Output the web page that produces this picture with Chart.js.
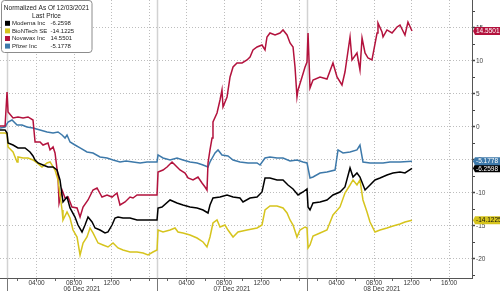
<!DOCTYPE html>
<html>
<head>
<meta charset="utf-8">
<script src="https://cdn.jsdelivr.net/npm/chart.js@4.4.1/dist/chart.umd.min.js"></script>
<style>
  html, body { margin: 0; padding: 0; background: #fff; }
</style>
</head>
<body>
<canvas id="chart" width="500" height="295"></canvas>
<script>
// legend / tag info, in legend order
const seriesNames = ['Moderna Inc', 'BioNTech SE', 'Novavax Inc', 'Pfizer Inc'];
const seriesColors = ['#000000', '#d6c41d', '#b3123d', '#3d79aa'];
const lastPrices = ['-6.2598', '-14.1225', '14.5501', '-5.1778'];
const legendTitle = ['Normalized As Of 12/03/2021', 'Last Price'];

// x axis: one 16 hour session per day, session starts at 00:51 on the axis clock
const dayLabels = ['06 Dec 2021', '07 Dec 2021', '08 Dec 2021'];
const timeTicks = [4, 8, 12, 16];
const timeLabels = ['04:00', '08:00', '12:00', '16:00'];
const sessionHours = 16;
const sessionStart = 0.85;

const yTickVals = [-22.5, -20, -17.5, -15, -12.5, -10, -7.5, -5, -2.5, 0, 2.5, 5, 7.5, 10, 12.5, 15, 17.5];

// [session hours, % change since 12/03]
const moderna = [[-0.75,-0.45],[-0.21,-0.45],[0,-0.91],[0.11,-2.42],[0.64,-2.73],[1.17,-3.18],[1.92,-3.18],[2.45,-3.79],[2.77,-4.39],[2.99,-5.0],[3.31,-5.45],[3.84,-5.76],[4.37,-6.06],[4.91,-6.06],[5.33,-6.52],[5.65,-8.03],[5.97,-11.36],[6.4,-10.61],[6.72,-12.27],[7.25,-13.64],[7.57,-14.85],[8.0,-15.91],[8.32,-14.85],[8.64,-13.64],[9.07,-14.39],[9.39,-15.3],[9.92,-15.61],[10.45,-16.06],[10.77,-15.91],[11.2,-14.85],[11.52,-13.79],[11.84,-13.64],[12.37,-13.79],[13.12,-13.79],[13.87,-14.09],[15.25,-14.09],[16.0,-14.09],[16.11,-12.27],[16.53,-12.12],[17.39,-11.06],[18.13,-11.52],[18.77,-11.82],[19.52,-12.12],[20.27,-12.27],[20.91,-12.58],[21.44,-13.03],[21.65,-11.82],[21.97,-10.76],[22.72,-10.61],[23.47,-10.3],[24.11,-10.61],[24.85,-10.76],[25.17,-11.36],[25.92,-10.76],[26.67,-10.61],[27.2,-9.85],[27.52,-7.73],[28.05,-7.73],[28.8,-8.03],[29.44,-8.03],[29.97,-8.79],[30.51,-9.39],[31.04,-10.3],[31.57,-9.85],[32.0,-9.39],[32.11,-12.12],[32.32,-12.58],[32.64,-11.52],[33.39,-11.36],[34.13,-11.06],[34.77,-10.3],[35.52,-9.85],[36.05,-9.09],[36.59,-6.21],[36.91,-7.58],[37.33,-6.97],[37.65,-7.58],[38.19,-9.55],[38.72,-8.79],[39.25,-8.03],[39.79,-7.73],[40.53,-7.27],[41.17,-6.97],[41.92,-6.82],[42.45,-6.97],[43.2,-6.26]];

const biontech = [[-0.75,-0.91],[-0.21,-0.91],[0,-1.06],[0.11,-3.03],[0.64,-3.79],[1.07,-5.3],[1.17,-4.55],[1.71,-4.7],[2.24,-4.7],[2.77,-5.0],[3.2,-5.45],[3.73,-6.06],[4.27,-5.45],[4.59,-5.3],[5.12,-6.52],[5.44,-8.03],[5.87,-12.58],[5.97,-14.09],[6.4,-12.88],[6.72,-13.79],[7.04,-15.61],[7.47,-16.67],[7.79,-19.39],[8.11,-17.58],[8.53,-16.67],[8.85,-15.3],[9.17,-16.06],[9.71,-17.58],[10.24,-17.88],[10.77,-18.18],[11.31,-17.58],[11.84,-18.33],[12.37,-18.64],[13.12,-18.94],[13.87,-18.94],[14.51,-19.09],[15.04,-19.39],[15.57,-18.94],[16.0,-18.64],[16.11,-15.61],[16.64,-15.91],[17.39,-15.61],[17.92,-15.3],[18.24,-15.91],[18.77,-16.06],[19.52,-16.36],[20.27,-16.82],[20.91,-17.42],[21.33,-18.18],[21.65,-16.67],[21.97,-14.55],[22.4,-14.09],[22.72,-15.15],[23.25,-14.85],[23.57,-15.61],[24.11,-16.67],[24.64,-15.91],[25.6,-15.61],[26.67,-15.3],[27.2,-14.85],[27.52,-12.58],[28.05,-11.97],[28.8,-11.97],[29.44,-12.27],[29.87,-13.03],[30.19,-14.09],[30.51,-14.85],[30.93,-16.67],[31.25,-15.61],[31.79,-15.15],[32.0,-15.3],[32.11,-18.33],[32.32,-17.88],[32.64,-16.52],[33.39,-16.06],[34.13,-15.61],[34.77,-13.33],[35.52,-12.12],[36.05,-10.0],[36.59,-8.79],[36.91,-8.03],[37.33,-8.79],[37.65,-8.03],[37.97,-11.06],[38.4,-12.88],[38.72,-14.39],[39.25,-15.91],[39.79,-15.61],[40.53,-15.3],[41.17,-15.0],[41.92,-14.7],[42.45,-14.39],[43.2,-14.12]];

const novavax = [[-0.75,0.15],[-0.21,0.15],[0,5.3],[0.11,2.27],[0.64,1.36],[1.17,1.52],[1.71,1.36],[2.24,1.52],[2.77,1.06],[2.99,-2.27],[3.52,-2.27],[3.84,-2.73],[4.37,-2.42],[4.59,-3.48],[4.91,-3.03],[5.12,-3.94],[5.44,-7.58],[5.55,-11.52],[5.87,-9.55],[6.19,-10.76],[6.51,-10.61],[6.93,-12.12],[7.47,-12.27],[7.79,-13.64],[8.11,-12.12],[8.64,-11.06],[9.17,-9.55],[9.6,-9.24],[10.13,-10.61],[10.67,-10.3],[11.2,-10.61],[11.73,-10.0],[12.05,-11.82],[12.59,-11.36],[13.12,-10.61],[13.44,-10.76],[13.87,-10.3],[14.51,-10.3],[15.25,-10.3],[16.0,-10.3],[16.11,-6.82],[16.64,-6.52],[17.07,-6.06],[17.6,-5.3],[17.92,-5.76],[18.45,-6.52],[18.99,-6.97],[19.31,-7.73],[19.84,-8.03],[20.37,-7.58],[20.8,-8.48],[21.12,-9.09],[21.33,-9.55],[21.44,-5.45],[21.65,-3.48],[21.87,-1.67],[21.97,0.76],[22.4,2.12],[22.72,4.09],[22.93,5.61],[23.04,3.03],[23.47,4.55],[23.79,7.58],[24.11,9.09],[24.53,9.7],[25.07,9.7],[25.6,10.15],[25.92,10.61],[26.24,11.67],[26.67,12.12],[27.2,12.42],[27.52,11.67],[27.73,13.64],[28.05,14.24],[28.59,13.94],[29.12,14.24],[29.44,14.7],[29.87,13.94],[30.19,12.73],[30.51,12.12],[30.72,9.09],[30.93,4.55],[31.04,5.61],[31.47,7.58],[31.79,9.09],[32.0,9.85],[32.11,14.24],[32.32,5.91],[32.64,7.12],[33.39,7.58],[34.13,7.27],[34.77,9.7],[35.2,7.58],[35.73,6.36],[36.05,8.33],[36.59,13.64],[36.8,10.15],[37.33,11.21],[37.65,8.64],[37.87,13.48],[38.19,11.21],[38.51,10.45],[38.93,10.15],[39.47,14.24],[39.57,15.76],[40.0,14.39],[40.11,13.64],[40.53,14.7],[41.07,14.24],[41.6,15.15],[41.92,15.45],[42.45,13.94],[42.77,15.91],[43.2,14.55]];

const pfizer = [[-0.75,-0.15],[-0.21,0],[0.11,0.76],[0.53,1.06],[1.07,0.3],[1.6,0.3],[2.13,0],[2.77,-0.15],[3.52,-0.45],[4.27,-0.76],[4.91,-0.91],[5.44,-0.76],[5.87,-1.21],[6.19,-1.67],[6.4,-1.21],[6.72,-2.27],[7.25,-2.73],[7.79,-3.18],[8.53,-3.79],[9.17,-3.94],[9.92,-4.55],[10.67,-4.7],[11.31,-5.0],[12.05,-5.3],[12.7,-5.15],[13.44,-5.3],[14.2,-5.45],[14.93,-5.3],[16.0,-5.3],[16.11,-4.24],[16.64,-4.7],[17.39,-5.0],[18.13,-4.7],[18.77,-5.0],[19.52,-5.3],[20.27,-5.45],[20.91,-5.76],[21.44,-6.06],[21.65,-5.3],[22.19,-3.94],[22.51,-3.48],[22.93,-4.24],[23.57,-4.39],[24.11,-5.0],[24.85,-5.3],[25.71,-5.45],[26.67,-5.45],[26.99,-5.76],[27.52,-4.7],[28.05,-4.55],[28.8,-4.7],[29.44,-4.7],[30.19,-5.15],[30.93,-5.0],[31.57,-5.3],[32.0,-5.45],[32.32,-7.73],[32.64,-7.58],[33.39,-6.97],[34.13,-6.82],[34.99,-6.52],[35.31,-3.48],[35.84,-3.94],[36.59,-3.79],[37.33,-3.48],[37.65,-2.73],[37.97,-5.3],[38.72,-5.45],[40.11,-5.45],[40.85,-5.3],[41.92,-5.3],[43.2,-5.18]];

const allSeries = [moderna, biontech, novavax, pfizer];
const FONT = '"Liberation Sans", Arial, sans-serif';

// x ticks: day boundary + every 2h, grid only on the 4h ones
const xTickVals = [], xTickText = [], xTickKind = [];
dayLabels.forEach((d, i) => {
  xTickVals.push(i * sessionHours); xTickText.push(''); xTickKind.push('boundary');
  for (let hr = 2; hr <= 16; hr += 2) {
    xTickVals.push(i * sessionHours + hr - sessionStart);
    const k = timeTicks.indexOf(hr);
    let txt = k >= 0 ? timeLabels[k] : '';
    if (hr === 16 && i < dayLabels.length - 1) txt = '';   // no 16:00 next to the day break
    xTickText.push(txt);
    xTickKind.push(k >= 0 ? 'major' : 'minor');
  }
});

const sessionLines = {
  id: 'sessionLines',
  beforeDatasetsDraw(chart) {
    const { ctx, chartArea, scales } = chart;
    ctx.save();
    ctx.strokeStyle = '#d2d2d2';
    ctx.lineWidth = 1.5;
    dayLabels.forEach((d, i) => {
      const x = Math.round(scales.x.getPixelForValue(i * sessionHours)) + 0.5;
      ctx.beginPath(); ctx.moveTo(x, chartArea.top); ctx.lineTo(x, chartArea.bottom); ctx.stroke();
    });
    ctx.restore();
  },
  afterDraw(chart) {
    const { ctx, chartArea, scales } = chart;
    ctx.save();
    // long tick + date under each session
    ctx.strokeStyle = '#777';
    ctx.lineWidth = 1;
    ctx.font = '6.5px ' + FONT;
    ctx.fillStyle = '#333';
    ctx.textAlign = 'center';
    ctx.textBaseline = 'middle';
    dayLabels.forEach((d, i) => {
      const x = Math.round(scales.x.getPixelForValue(i * sessionHours)) + 0.5;
      ctx.beginPath(); ctx.moveTo(x, chartArea.bottom); ctx.lineTo(x, chartArea.bottom + 13); ctx.stroke();
      ctx.fillText(d, scales.x.getPixelForValue(i * sessionHours + 8), chartArea.bottom + 11.5);
    });
    ctx.restore();
  }
};

const priceTags = {
  id: 'priceTags',
  afterDraw(chart) {
    const { ctx, chartArea, scales } = chart;
    ctx.save();
    ctx.font = '6.5px ' + FONT;
    ctx.textBaseline = 'middle';
    ctx.textAlign = 'left';
    [1, 2, 0, 3].forEach(i => {
      const y = scales.y.getPixelForValue(parseFloat(lastPrices[i]));
      const x0 = chartArea.right + 1;
      ctx.fillStyle = seriesColors[i];
      ctx.beginPath();
      ctx.moveTo(x0, y);
      ctx.lineTo(x0 + 2, y - 4);
      ctx.lineTo(500, y - 4);
      ctx.lineTo(500, y + 4);
      ctx.lineTo(x0 + 2, y + 4);
      ctx.closePath();
      ctx.fill();
      ctx.fillStyle = i === 1 ? '#111' : '#fff';
      ctx.fillText(lastPrices[i], x0 + 3, y + 0.5);
    });
    ctx.restore();
  }
};

const legendBox = {
  id: 'legendBox',
  afterDraw(chart) {
    const ctx = chart.ctx;
    ctx.save();
    ctx.beginPath();
    ctx.roundRect(1.5, 0.5, 90.5, 52, 3);
    ctx.fillStyle = '#fff';
    ctx.fill();
    ctx.strokeStyle = '#8c8c8c';
    ctx.lineWidth = 1;
    ctx.stroke();
    ctx.font = '6.5px ' + FONT;
    ctx.fillStyle = '#222';
    ctx.textAlign = 'center';
    ctx.textBaseline = 'middle';
    ctx.fillText(legendTitle[0], 46.5, 8.5);
    ctx.fillText(legendTitle[1], 46.5, 16);
    ctx.textAlign = 'left';
    ctx.font = '6px ' + FONT;
    seriesNames.forEach((name, i) => {
      const y = 23.3 + i * 7.6;
      ctx.fillStyle = seriesColors[i];
      ctx.fillRect(5, y - 2.5, 5, 5);
      ctx.fillStyle = '#222';
      ctx.fillText(name, 12, y);
      ctx.fillText(lastPrices[i], 50.5, y);
    });
    ctx.restore();
  }
};

new Chart(document.getElementById('chart'), {
  type: 'line',
  data: {
    datasets: allSeries.map((s, i) => ({
      label: seriesNames[i],
      data: s.map(p => ({ x: p[0], y: p[1] })),
      borderColor: seriesColors[i],
      borderWidth: 1.5,
      pointRadius: 0,
      tension: 0,
      fill: false
    }))
  },
  options: {
    responsive: false,
    animation: false,
    devicePixelRatio: 1,
    layout: { padding: 0 },
    plugins: { legend: { display: false }, tooltip: { enabled: false } },
    scales: {
      x: {
        type: 'linear',
        min: -0.75,
        max: 49.6,
        afterBuildTicks: axis => { axis.ticks = xTickVals.map(v => ({ value: v })); },
        afterFit: axis => { axis.height = 17; axis.paddingLeft = 0; axis.paddingRight = 0; },
        ticks: {
          autoSkip: false, maxRotation: 0, minRotation: 0, padding: -2,
          color: '#333', font: { size: 6.5, family: FONT },
          callback: (v, i) => xTickText[i]
        },
        grid: {
          color: c => xTickKind[c.index] === 'major' ? '#bdbdbd' : 'rgba(0,0,0,0)',
          lineWidth: 1,
          tickLength: 3,
          tickColor: '#666'
        },
        border: { display: true, color: '#555', width: 1, dash: [1, 2] }
      },
      y: {
        position: 'right',
        min: -22.88,
        max: 19.24,
        afterBuildTicks: axis => { axis.ticks = yTickVals.map(v => ({ value: v })); },
        afterFit: axis => { axis.width = 28; axis.paddingTop = 0; axis.paddingBottom = 0; },
        ticks: {
          autoSkip: false, padding: 1,
          color: '#444', font: { size: 6.5, family: FONT },
          callback: v => (v % 5 === 0 ? String(v) : '')
        },
        grid: {
          color: c => (c.tick && c.tick.value % 5 === 0) ? '#bdbdbd' : 'rgba(0,0,0,0)',
          lineWidth: 1,
          tickLength: 3,
          tickColor: '#444',
          tickWidth: c => (c.tick && c.tick.value % 5 === 0) ? 1.5 : 1
        },
        border: { display: true, color: '#555', width: 1, dash: [1, 2] }
      }
    }
  },
  plugins: [sessionLines, priceTags, legendBox]
});
</script>
</body>
</html>
